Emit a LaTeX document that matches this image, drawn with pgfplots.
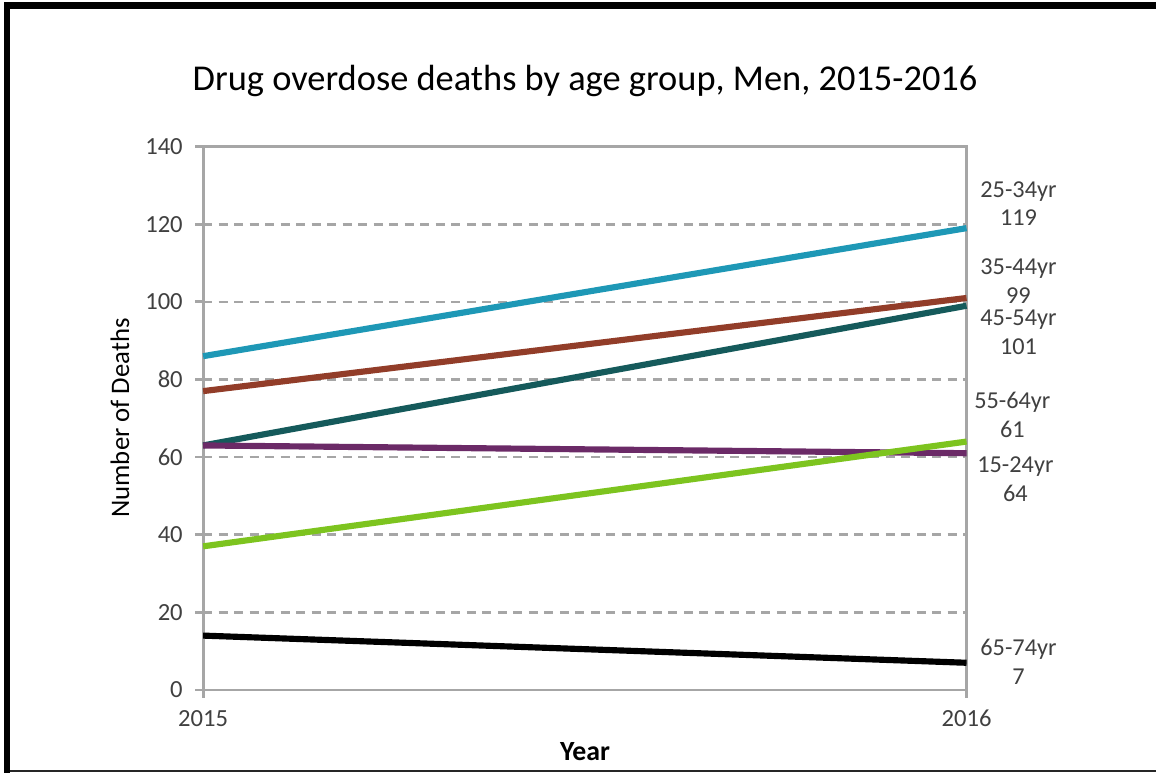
\documentclass[border=0pt]{standalone}
\usepackage{pgfplots}
\pgfplotsset{compat=1.18}
\usepackage{fontspec}
\setmainfont{Carlito}
\definecolor{cA}{HTML}{1E98B6}
\definecolor{cB}{HTML}{923D29}
\definecolor{cC}{HTML}{155A5B}
\definecolor{cD}{HTML}{6B2A67}
\definecolor{cE}{HTML}{7DC41F}
\definecolor{gridgray}{HTML}{A6A6A6}
\definecolor{txt}{HTML}{404040}
\begin{document}
\begin{tikzpicture}[x=0.01cm,y=0.01cm]
\useasboundingbox (0,0) rectangle (1156,773);
\fill[black] (4.5,0) rectangle (10.5,771);
\fill[black] (4.5,764) rectangle (1156,771);
\fill[black!85] (10.5,1) rectangle (1156,2.6);
\node[anchor=base, font=\fontsize{10.35}{12}\selectfont, text=black, inner sep=0] at (585,682) {Drug overdose deaths by age group, Men, 2015-2016};
\begin{axis}[
  at={(2.03cm,0.83cm)}, anchor=south west,
  scale only axis, width=7.63cm, height=5.43cm,
  xmin=2015, xmax=2016, ymin=0, ymax=140,
  xtick={2015,2016}, ytick={0,20,...,140},
  xticklabel style={/pgf/number format/1000 sep={}, /pgf/number format/fixed, /pgf/number format/precision=0},
  /pgf/number format/assume math mode=true,
  tick label style={font=\fontsize{7}{8}\selectfont, text=txt},
  axis line style={gridgray, line width=0.8pt},
  tick style={gridgray, line width=0.8pt},
  tick align=outside, major tick length=0.08cm,
  xtick pos=bottom, ytick pos=left,
  ymajorgrids, major grid style={gridgray, dash pattern=on 0.09cm off 0.065cm, line width=0.75pt},
  clip=false,
  every axis plot/.append style={line width=1.75pt, line cap=butt},
]
\addplot[cA] coordinates {(2015,86) (2016,119)};
\addplot[cB] coordinates {(2015,77) (2016,101)};
\addplot[cC] coordinates {(2015,63) (2016,99)};
\addplot[cD] coordinates {(2015,63) (2016,61)};
\addplot[cE] coordinates {(2015,37) (2016,64)};
\addplot[black] coordinates {(2015,14) (2016,7)};
\begin{scope}[every node/.style={align=center, inner sep=0, font=\fontsize{6.9}{8.2}\selectfont, text=txt}]
\node at (axis cs:2016.068,125.3) {25-34yr\\119};
\node at (axis cs:2016.068,105.4) {35-44yr\\99};
\node at (axis cs:2016.068,92.2) {45-54yr\\101};
\node at (axis cs:2016.060,70.9) {55-64yr\\61};
\node at (axis cs:2016.064,54.3) {15-24yr\\64};
\node at (axis cs:2016.068,7.3) {65-74yr\\7};
\end{scope}
\end{axis}
\node[font=\bfseries\fontsize{7.9}{9}\selectfont, text=black] at (585,21) {Year};
\node[rotate=90, font=\fontsize{7.6}{9}\selectfont, text=black] at (120,355) {Number of Deaths};
\end{tikzpicture}
\end{document}
